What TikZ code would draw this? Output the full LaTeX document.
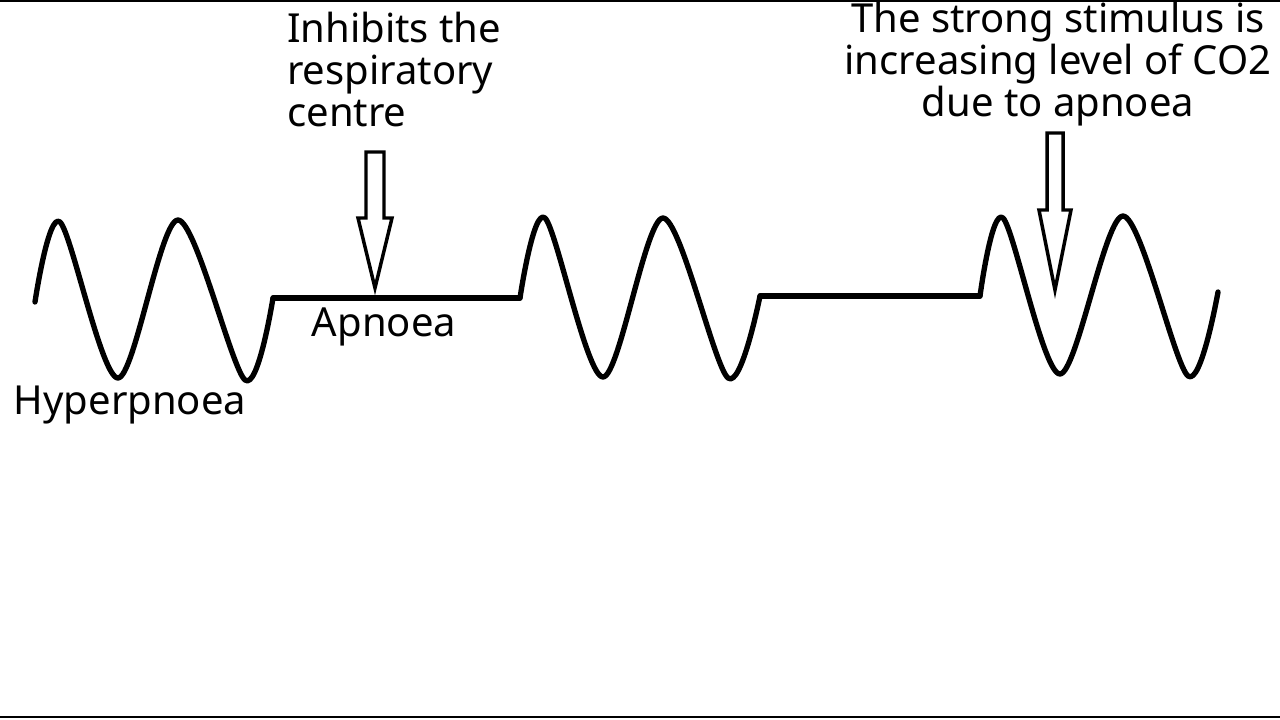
\documentclass[tikz,border=0pt]{standalone}
\usepackage{fontspec}
\setmainfont{Noto Sans}
\begin{document}
\begin{tikzpicture}[x=0.75pt,y=-0.75pt,
  wave/.style={line width=4pt,line join=round,line cap=round},
  lbl/.style={font=\fontsize{30}{31.5}\selectfont,inner sep=0pt},
  hollow/.style={draw,line width=2.6pt,fill=white,line join=miter}]
\useasboundingbox (0,0) rectangle (1280,720);
\draw[line width=1pt] (0,1) -- (1280,1);
\draw[line width=1.5pt] (0,717) -- (1280,717);
\draw[wave] plot[smooth,tension=0.5] coordinates {(35,302) (60,222) (118,378) (178,220) (245,380) (273,298)};
\coordinate (a1) at (273,298); \coordinate (a2) at (520,298);
\draw[wave] (a1) -- (a2);
\draw[wave] plot[smooth,tension=0.5] coordinates {(520,298) (545,218) (603,377) (663,218) (728,378) (760,296)};
\coordinate (b1) at (760,296); \coordinate (b2) at (980,296);
\draw[wave] (b1) -- (b2);
\draw[wave] plot[smooth,tension=0.5] coordinates {(980,296) (1003,218) (1060,374) (1123,216) (1188,376) (1218,292)};
\draw[hollow] (366,152) -- (384,152) -- (384,218) -- (392,218) -- (375,288) -- (358,218) -- (366,218) -- cycle;
\draw[hollow] (1047,133) -- (1063,133) -- (1063,210) -- (1071,210) -- (1055,290) -- (1039,210) -- (1047,210) -- cycle;
\node[lbl,anchor=north west,align=left] (t1) at (287,12) {Inhibits the\\respiratory\\centre};
\node[lbl,anchor=north,align=center] (t2) at (1058,2) {The strong stimulus is\\increasing level of CO2\\due to apnoea};
\node[lbl] (ap) at (384,327) {Apnoea};
\node[lbl] (hy) at (130,405) {Hyperpnoea};
\end{tikzpicture}
\end{document}
